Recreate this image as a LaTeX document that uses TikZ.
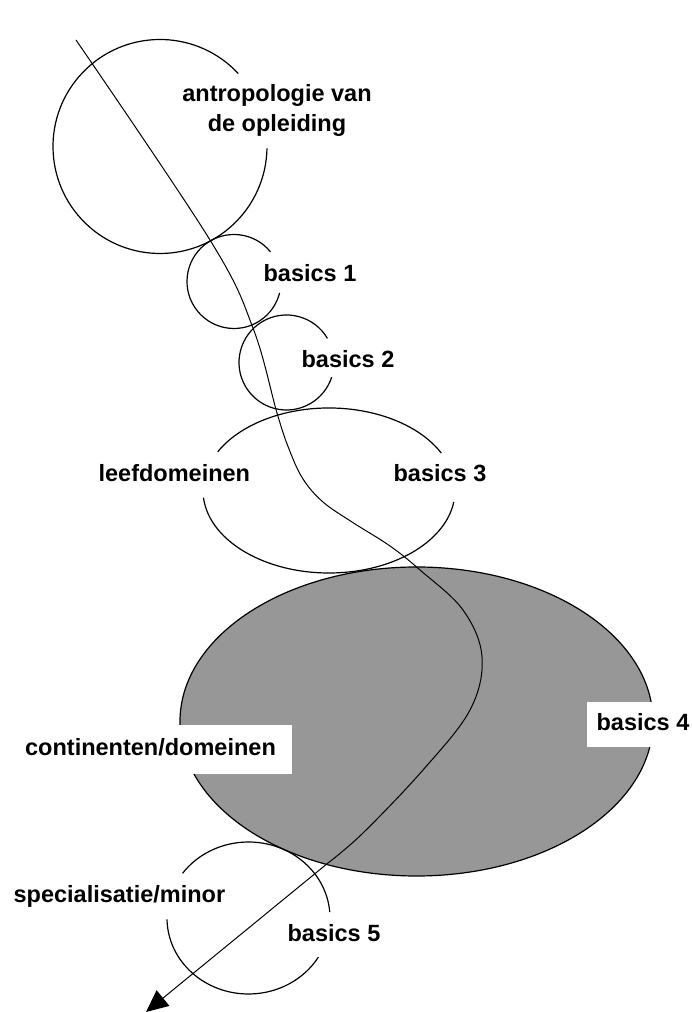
\documentclass[tikz,border=0pt]{standalone}
\usepackage{fontspec}
\setmainfont{Liberation Sans}
\usetikzlibrary{arrows.meta}
\definecolor{domeingray}{RGB}{151,151,151}
\tikzset{
  lbl/.style={font=\bfseries\fontsize{23.5}{30}\selectfont, inner sep=0pt},
  lblbox/.style={lbl, fill=white, text height=17pt, text depth=5pt}
}
\begin{document}
\begin{tikzpicture}[x=1pt, y=1pt, line width=1.2pt]
\useasboundingbox (0,0) rectangle (691,1012);
\draw[fill=domeingray] (416.5,290.5) ellipse[x radius=236.5, y radius=154.5];
\draw (160,865.5) ++(43:107) arc[start angle=43, end angle=359, radius=107];
\draw (234,730.5) ++(39:47) arc[start angle=39, end angle=346, radius=47];
\draw (286.5,649.5) ++(30.5:47.5) arc[start angle=30.5, end angle=342, radius=47.5];
\draw (329,521.5) ++({126*cos(27)},{82.5*sin(27)}) arc[start angle=27, end angle=152, x radius=126, y radius=82.5];
\draw (329,521.5) ++({126*cos(185)},{82.5*sin(185)}) arc[start angle=185, end angle=352, x radius=126, y radius=82.5];
\draw (248.5,94) ++({81.5*cos(4.5)},{76*sin(4.5)}) arc[start angle=4.5, end angle=144, x radius=81.5, y radius=76];
\draw (248.5,94) ++({81.5*cos(181)},{76*sin(181)}) arc[start angle=181, end angle=329, x radius=81.5, y radius=76];
\coordinate (tip) at (146,0);
\draw[line width=1pt, -{Triangle[length=22pt, width=20pt]}] plot[smooth, tension=0.6] coordinates {(76,972) (210,772) (253,684) (277,599) (289,563) (303,533) (323,510) (352,490) (390,466) (420,442) (463,402) (482,355) (470,302) (423,242) (363,179) (328,149)} -- (tip);
\node[lbl, align=center] (antro) at (277,902) {antropologie van\\de opleiding};
\node[lbl, anchor=base west] (b1) at (263,730) {basics 1};
\node[lbl, anchor=base west] (b2) at (301,644) {basics 2};
\node[lbl, anchor=base west] (leef) at (98,530) {leefdomeinen};
\node[lbl, anchor=base west] (b3) at (393,530) {basics 3};
\node[lblbox, minimum width=283pt, minimum height=49pt] (cont) at (150.5,262.5) {continenten/domeinen};
\node[lblbox, minimum width=112pt, minimum height=45pt] (b4) at (643,287.5) {basics 4};
\node[lbl, anchor=base west] (spec) at (13,109) {specialisatie/minor};
\node[lbl, anchor=base west] (b5) at (287,70) {basics 5};
\end{tikzpicture}
\end{document}
